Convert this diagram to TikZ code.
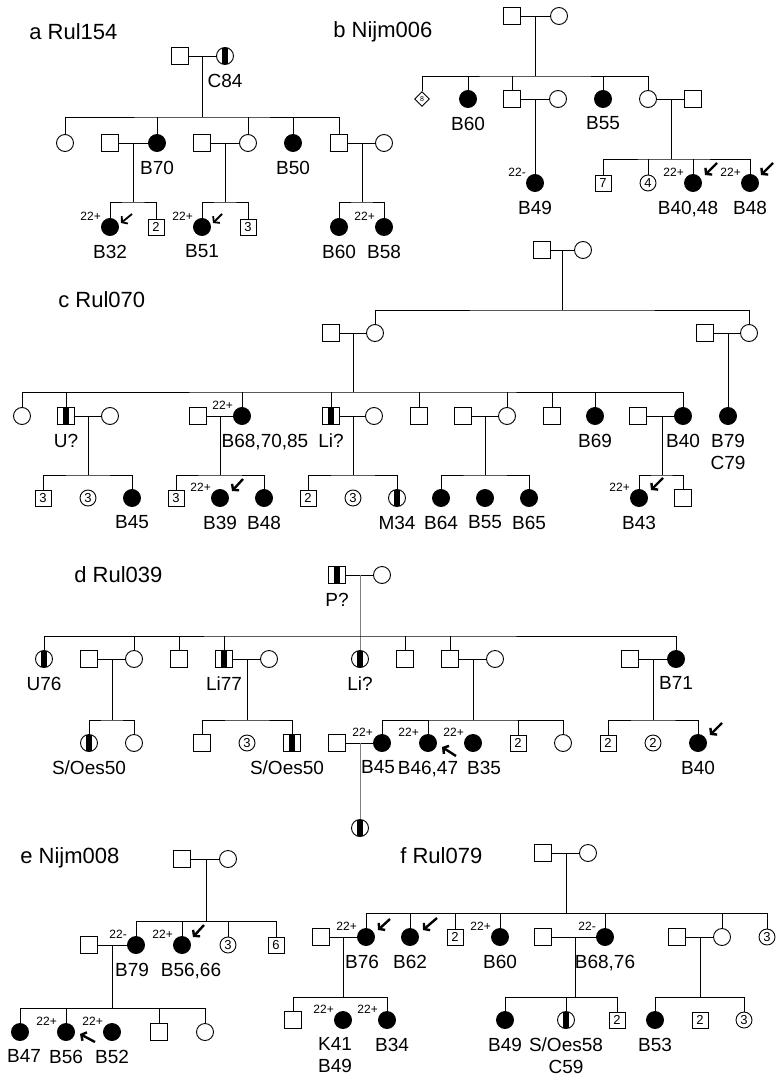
\documentclass[tikz,border=0pt]{standalone}
\usepackage{fontspec}
\setmainfont{Liberation Sans}
\usetikzlibrary{arrows.meta, shapes.geometric}
\tikzset{>={Straight Barb[length=3.8pt,width=9.5pt]}}
\tikzset{
  sq/.style={draw, rectangle, minimum size=17pt, inner sep=0pt, line width=0.9pt},
  ci/.style={draw, circle, minimum size=17pt, inner sep=0pt, line width=0.9pt},
  dia/.style={draw, diamond, minimum size=15pt, inner sep=0pt, line width=0.9pt, font=\fontsize{7}{7}\selectfont},
  aff/.style={fill=black},
  cr/.style={path picture={\fill ([xshift=-2.9pt]path picture bounding box.south) rectangle ([xshift=2.9pt]path picture bounding box.north);}},
  nsq/.style={sq, minimum size=16pt, font=\fontsize{13}{13}\selectfont},
  nci/.style={ci, minimum size=16pt, font=\fontsize{13}{13}\selectfont},
  lab/.style={font=\fontsize{19}{22}\selectfont, inner sep=0pt, yshift=-8.5pt},
  sml/.style={font=\fontsize{12}{12}\selectfont, inner sep=0pt, xshift=-2.5pt},
  nm/.style={label={[lab]below:#1}},
  age/.style={label={[sml]north west:#1}},
  ttl/.style={font=\fontsize{22}{24}\selectfont, anchor=west, inner sep=0pt},
  prob/.style={->, line width=2.4pt},
}

\begin{document}
\begin{tikzpicture}[x=1pt, y=-1pt, line width=0.8pt]
\useasboundingbox (0,0) rectangle (781,1078);

% a Rul154
\node[ttl] (at) at (29,32) {a Rul154};
\node[sq] (a1) at (180,56) {};
\node[ci, cr, nm=C84] (a2) at (225,56) {};
\node[ci] (a3) at (65,143) {};
\node[sq] (a4) at (110,143) {};
\node[ci, aff, nm=B70] (a5) at (157,143) {};
\node[sq] (a6) at (202,143) {};
\node[ci] (a7) at (248,143) {};
\node[ci, aff, nm=B50] (a8) at (293,143) {};
\node[sq] (a9) at (339,143) {};
\node[ci] (a10) at (384,143) {};
\node[ci, aff, nm=B32, age=22+] (a11) at (110,227) {};
\node[nsq] (a12) at (156,227) {2};
\node[ci, aff, nm=B51, age=22+] (a13) at (202,227) {};
\node[nsq] (a14) at (248,227) {3};
\node[ci, aff, nm=B60] (a15) at (339,227) {};
\node[ci, aff, nm=B58, age=22+] (a16) at (384,227) {};
\coordinate (as) at (202,117);
\coordinate (ab) at (133,202);
\coordinate (ac) at (225,202);
\coordinate (ad) at (362,202);
\draw (a1) -- (a2);
\draw (as) -- (as |- a1);
\draw (a3.north) |- (as) -| (a9.north);
\foreach \c in {a5,a7,a8} \draw (\c.north) -- (\c.north |- as);
\draw (a4) -- (a5);
\draw (ab) -- (ab |- a4);
\draw (a11.north) |- (ab) -| (a12.north);
\draw (a6) -- (a7);
\draw (ac) -- (ac |- a6);
\draw (a13.north) |- (ac) -| (a14.north);
\draw (a9) -- (a10);
\draw (ad) -- (ad |- a9);
\draw (a15.north) |- (ad) -| (a16.north);
\draw[prob, line width=1.8pt] ([shift={(22,-13)}]a11.center) -- ([shift={(11,-4)}]a11.center);
\draw[prob, line width=1.8pt] ([shift={(20,-13)}]a13.center) -- ([shift={(11,-4)}]a13.center);

% b Nijm006
\node[ttl] (bt) at (333,32) {b Nijm006};
\node[sq] (b1) at (512,16) {};
\node[ci] (b2) at (559,16) {};
\node[dia] (b3) at (422,99) {8};
\node[ci, aff, nm=B60] (b4) at (468,99) {};
\node[sq] (b5) at (512,99) {};
\node[ci] (b6) at (558,99) {};
\node[ci, aff, nm=B55] (b7) at (603,99) {};
\node[ci] (b8) at (648,99) {};
\node[sq] (b9) at (693,99) {};
\node[ci, aff, nm=B49, age=22-] (b10) at (535,183) {};
\node[nsq] (b11) at (603,183) {7};
\node[nci] (b12) at (648,183) {4};
\node[ci, aff, label={[lab,xshift=-5pt]below:B40,48}, age=22+] (b13) at (693,183) {};
\node[ci, aff, nm=B48, age=22+] (b14) at (750,183) {};
\coordinate (bs) at (535,76);
\coordinate (bb) at (671,159);
\draw (b1) -- (b2);
\draw (bs) -- (bs |- b1);
\draw (b3.north) |- (bs) -| (b8.north);
\foreach \c in {b4,b5,b7} \draw (\c.north) -- (\c.north |- bs);
\draw (b5) -- (b6);
\draw (b10.north) -- (b10.north |- b5);
\draw (b8) -- (b9);
\draw (bb) -- (bb |- b8);
\draw (b11.north) |- (bb) -| (b14.north);
\foreach \c in {b12,b13} \draw (\c.north) -- (\c.north |- bb);
\draw[prob] ([shift={(24,-20)}]b13.center) -- ([shift={(12,-8)}]b13.center);
\draw[prob] ([shift={(23,-20)}]b14.center) -- ([shift={(11,-8)}]b14.center);

% c Rul070
\node[ttl] (ct) at (58,300) {c Rul070};
\node[sq] (c1) at (542,250) {};
\node[ci] (c2) at (583,250) {};
\node[sq] (c3) at (331,333) {};
\node[ci] (c4) at (375,333) {};
\node[sq] (c5) at (705,333) {};
\node[ci] (c6) at (749,333) {};
\node[ci] (c7) at (22,416) {};
\node[sq, cr, nm=U?] (c8) at (66,416) {};
\node[ci] (c9) at (110,416) {};
\node[sq] (c10) at (198,416) {};
\node[ci, aff, label={[lab,xshift=23pt]below:B68,70,85}, age=22+] (c11) at (242,416) {};
\node[sq, cr, nm=Li?] (c12) at (331,416) {};
\node[ci] (c13) at (374,416) {};
\node[sq] (c14) at (419,416) {};
\node[sq] (c15) at (463,416) {};
\node[ci] (c16) at (507,416) {};
\node[sq] (c17) at (552,416) {};
\node[ci, aff, nm=B69] (c18) at (595,416) {};
\node[sq] (c19) at (638,416) {};
\node[ci, aff, nm=B40] (c20) at (683,416) {};
\node[ci, aff, label={[lab,align=center]below:B79\\C79}] (c21) at (728,416) {};
\node[nsq] (c22) at (43,498) {3};
\node[nci] (c23) at (88,498) {3};
\node[ci, aff, nm=B45] (c24) at (132,498) {};
\node[nsq] (c25) at (176,498) {3};
\node[ci, aff, nm=B39, age=22+] (c26) at (220,498) {};
\node[ci, aff, nm=B48] (c27) at (264,498) {};
\node[nsq] (c28) at (308,498) {2};
\node[nci] (c29) at (353,498) {3};
\node[ci, cr, nm=M34] (c30) at (397,498) {};
\node[ci, aff, nm=B64] (c31) at (441,498) {};
\node[ci, aff, nm=B55] (c32) at (485,498) {};
\node[ci, aff, nm=B65] (c33) at (529,498) {};
\node[ci, aff, nm=B43, age=22+] (c34) at (639,498) {};
\node[sq] (c35) at (683,498) {};
\coordinate (cs) at (562,310);
\coordinate (cu) at (353,392);
\coordinate (cv) at (88,475);
\coordinate (cw) at (220,475);
\coordinate (cx) at (353,475);
\coordinate (cy) at (485,475);
\coordinate (cz) at (662,475);
\draw (c1) -- (c2);
\draw (cs) -- (cs |- c1);
\draw (c4.north) |- (cs) -| (c6.north);
\draw (c3) -- (c4);
\draw (cu) -- (cu |- c3);
\draw (c7.north) |- (cu) -| (c20.north);
\foreach \c in {c8,c11,c12,c14,c16,c17,c18} \draw (\c.north) -- (\c.north |- cu);
\draw (c5) -- (c6);
\draw (c21.north) -- (c21.north |- c5);
\draw (c8) -- (c9);
\draw (cv) -- (cv |- c8);
\draw (c22.north) |- (cv) -| (c24.north);
\draw (c10) -- (c11);
\draw (cw) -- (cw |- c10);
\draw (c25.north) |- (cw) -| (c27.north);
\draw (c12) -- (c13);
\draw (cx) -- (cx |- c12);
\draw (c28.north) |- (cx) -| (c30.north);
\draw (c15) -- (c16);
\draw (cy) -- (cy |- c15);
\draw (c31.north) |- (cy) -| (c33.north);
\draw (c19) -- (c20);
\draw (cz) -- (cz |- c19);
\draw (c34.north) |- (cz) -| (c35.north);
\draw[prob] ([shift={(23,-19)}]c26.center) -- ([shift={(12,-7)}]c26.center);
\draw[prob] ([shift={(24,-20)}]c34.center) -- ([shift={(12,-8)}]c34.center);

% d Rul039
\node[ttl] (dt) at (74,575) {d Rul039};
\node[sq, cr, nm=P?] (d1) at (337,575) {};
\node[ci] (d2) at (382,575) {};
\node[ci, cr, nm=U76] (d3) at (44,659) {};
\node[sq] (d4) at (89,659) {};
\node[ci] (d5) at (134,659) {};
\node[sq] (d6) at (179,659) {};
\node[sq, cr, nm=Li77] (d7) at (224,659) {};
\node[ci] (d8) at (269,659) {};
\node[ci, cr, nm=Li?] (d9) at (360,659) {};
\node[sq] (d10) at (405,659) {};
\node[sq] (d11) at (450,659) {};
\node[ci] (d12) at (495,659) {};
\node[sq] (d13) at (630,659) {};
\node[ci, aff, nm=B71] (d14) at (676,659) {};
\node[ci, cr, nm=S/Oes50] (d15) at (89,743) {};
\node[ci] (d16) at (134,743) {};
\node[sq] (d17) at (202,743) {};
\node[nci] (d18) at (247,743) {3};
\node[sq, cr, label={[lab,xshift=-5pt]below:S/Oes50}] (d19) at (292,743) {};
\node[sq] (d20) at (337,743) {};
\node[ci, aff, label={[lab,xshift=-4pt]below:B45}, age=22+] (d21) at (382,743) {};
\node[ci, aff, nm={B46,47}, age=22+] (d22) at (428,743) {};
\node[ci, aff, label={[lab,xshift=11pt]below:B35}, age=22+] (d23) at (473,743) {};
\node[nsq] (d24) at (518,743) {2};
\node[ci] (d25) at (563,743) {};
\node[nsq] (d26) at (608,743) {2};
\node[nci] (d27) at (653,743) {2};
\node[ci, aff, nm=B40] (d28) at (698,743) {};
\node[ci, cr] (d29) at (360,828) {};
\coordinate (ds) at (360,636);
\coordinate (da) at (112,720);
\coordinate (db) at (247,720);
\coordinate (dc) at (473,720);
\coordinate (dd) at (653,720);
\draw (d1) -- (d2);
\draw[gray] (d9.north) -- (d9.north |- d1);
\draw (d3.north) |- (ds) -| (d14.north);
\foreach \c in {d5,d6,d7,d10,d11} \draw (\c.north) -- (\c.north |- ds);
\draw (d4) -- (d5);
\draw (da) -- (da |- d4);
\draw (d15.north) |- (da) -| (d16.north);
\draw (d7) -- (d8);
\draw (db) -- (db |- d7);
\draw (d17.north) |- (db) -| (d19.north);
\draw (d11) -- (d12);
\draw (dc) -- (dc |- d11);
\draw (d21.north) |- (dc) -| (d25.north);
\foreach \c in {d22,d24} \draw (\c.north) -- (\c.north |- dc);
\draw (d13) -- (d14);
\draw (dd) -- (dd |- d13);
\draw (d26.north) |- (dd) -| (d28.north);
\draw (d20) -- (d21);
\draw[gray] (d29.north) -- (d29.north |- d20);
\draw[prob] ([shift={(28,13)}]d22.center) -- ([shift={(14,4)}]d22.center);
\draw[prob] ([shift={(24,-20)}]d28.center) -- ([shift={(12,-8)}]d28.center);

% e Nijm008
\node[ttl] (et) at (20,858) {e Nijm008};
\node[sq] (e1) at (182,859) {};
\node[ci] (e2) at (228,859) {};
\node[sq] (e3) at (89,945) {};
\node[ci, aff, label={[lab,xshift=-4pt]below:B79}, age=22-] (e4) at (136,945) {};
\node[ci, aff, label={[lab,xshift=9pt]below:B56,66}, age=22+] (e5) at (182,945) {};
\node[nci] (e6) at (228,945) {3};
\node[nsq] (e7) at (276,945) {6};
\node[ci, aff, label={[lab,xshift=4pt]below:B47}] (e8) at (20,1032) {};
\node[ci, aff, nm=B56, age=22+] (e9) at (66,1032) {};
\node[ci, aff, nm=B52, age=22+] (e10) at (112,1032) {};
\node[sq] (e11) at (159,1032) {};
\node[ci] (e12) at (205,1032) {};
\coordinate (es) at (206,921);
\coordinate (eb) at (112,1008);
\draw (e1) -- (e2);
\draw (es) -- (es |- e1);
\draw (e4.north) |- (es) -| (e7.north);
\foreach \c in {e5,e6} \draw (\c.north) -- (\c.north |- es);
\draw (e3) -- (e4);
\draw (eb) -- (eb |- e3);
\draw (e8.north) |- (eb) -| (e12.north);
\foreach \c in {e9,e11} \draw (\c.north) -- (\c.north |- eb);
\draw[prob] ([shift={(22,-20)}]e5.center) -- ([shift={(11,-8)}]e5.center);
\draw[prob] ([shift={(29,10)}]e9.center) -- ([shift={(14,2)}]e9.center);

% f Rul079
\node[ttl] (ft) at (400,856) {f Rul079};
\node[sq] (f1) at (543,853) {};
\node[ci] (f2) at (588,853) {};
\node[sq] (f3) at (321,937) {};
\node[ci, aff, label={[lab,xshift=-4pt]below:B76}, age=22+] (f4) at (366,937) {};
\node[ci, aff, nm=B62] (f5) at (410,937) {};
\node[nsq] (f6) at (455,937) {2};
\node[ci, aff, nm=B60, age=22+] (f7) at (500,937) {};
\node[sq] (f8) at (543,937) {};
\node[ci, aff, nm={B68,76}, age=22-] (f9) at (605,937) {};
\node[sq] (f10) at (677,937) {};
\node[ci] (f11) at (722,937) {};
\node[nci] (f12) at (767,937) {3};
\node[sq] (f13) at (293,1020) {};
\node[ci, aff, label={[lab,align=center,xshift=-8pt]below:K41\\B49}, age=22+] (f14) at (343,1020) {};
\node[ci, aff, label={[lab,xshift=5pt]below:B34}, age=22+] (f15) at (387,1020) {};
\node[ci, aff, nm=B49] (f16) at (505,1020) {};
\node[ci, cr, label={[lab,align=center]below:S/Oes58\\C59}] (f17) at (566,1020) {};
\node[nsq] (f18) at (617,1020) {2};
\node[ci, aff, nm=B53] (f19) at (655,1020) {};
\node[nsq] (f20) at (700,1020) {2};
\node[nci] (f21) at (744,1020) {3};
\coordinate (fs) at (566,913);
\coordinate (fa) at (343,997);
\coordinate (fb) at (575,997);
\coordinate (fc) at (700,997);
\draw (f1) -- (f2);
\draw (fs) -- (fs |- f1);
\draw (f4.north) |- (fs) -| (f12.north);
\foreach \c in {f5,f6,f7,f9,f11} \draw (\c.north) -- (\c.north |- fs);
\draw (f3) -- (f4);
\draw (fa) -- (fa |- f3);
\draw (f13.north) |- (fa) -| (f15.north);
\draw (f8) -- (f9);
\draw (fb) -- (fb |- f8);
\draw (f16.north) |- (fb) -| (f18.north);
\draw (f17.north) -- (f17.north |- fb);
\draw (f10) -- (f11);
\draw (fc) -- (fc |- f10);
\draw (f19.north) |- (fc) -| (f21.north);
\draw[prob] ([shift={(24,-18)}]f4.center) -- ([shift={(12,-7)}]f4.center);
\draw[prob] ([shift={(27,-19)}]f5.center) -- ([shift={(13,-7)}]f5.center);
\end{tikzpicture}
\end{document}
